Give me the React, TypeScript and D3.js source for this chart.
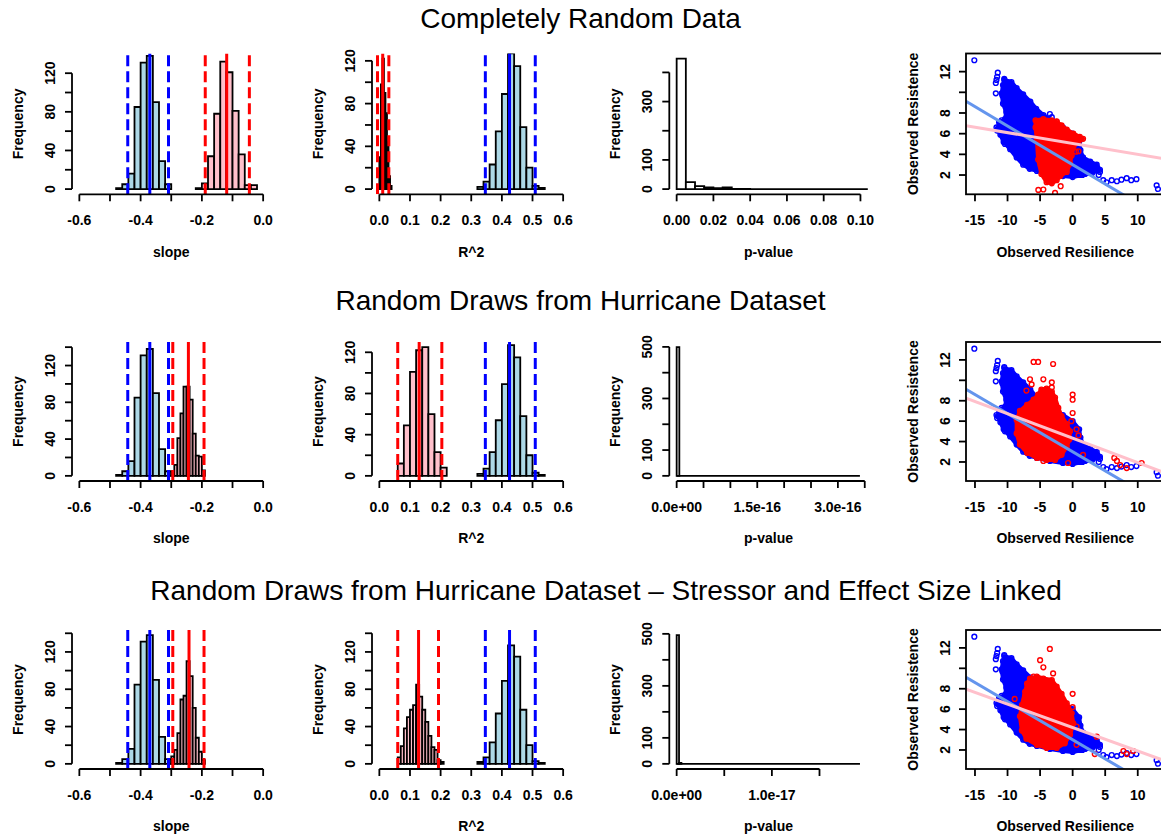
import * as d3 from 'd3';

const FONT = '"Liberation Sans", Arial, Helvetica, sans-serif';

const ROW_TITLES = [
  'Completely Random Data',
  'Random Draws from Hurricane Dataset',
  'Random Draws from Hurricane Dataset \u2013 Stressor and Effect Size Linked',
];

// ---- slope histograms ----
const SLOPE_BLUE_START = -0.48;
const SLOPE_BLUE_WIDTH = 0.02;
const SLOPE_BLUE_COUNTS = [1, 5, 16, 85, 131, 138, 90, 29, 5];
const SLOPE_RED_START = [-0.22, -0.3, -0.3];
const SLOPE_RED_WIDTH = [0.02, 0.01, 0.01];
const SLOPE_RED_COUNTS = [
  [1, 6, 34, 78, 132, 121, 81, 36, 4, 4],
  [4, 12, 41, 68, 97, 97, 83, 46, 22, 21, 6],
  [8, 15, 33, 69, 73, 110, 94, 60, 28, 13, 4],
];
// lower, mean, upper
const SLOPE_BLUE_LINES = [-0.442, -0.37, -0.309];
const SLOPE_RED_LINES = [
  [-0.189, -0.119, -0.045],
  [-0.295, -0.244, -0.193],
  [-0.295, -0.242, -0.193],
];
const SLOPE_YMAX = [135, 140, 138];
const SLOPE_XTICKS = [-0.6, -0.5, -0.4, -0.3, -0.2, -0.1, 0];
const SLOPE_XLABELS = ['-0.6', '', '-0.4', '', '-0.2', '', '0.0'];

// ---- R^2 histograms ----
const R2_BLUE_START = 0.32;
const R2_BLUE_WIDTH = 0.02;
const R2_BLUE_COUNTS = [2, 7, 23, 54, 89, 127, 115, 58, 20, 3, 1];
const R2_RED_START = [0, 0.06, 0.06];
const R2_RED_WIDTH = [0.005, 0.02, 0.01];
const R2_RED_COUNTS = [
  [30, 98, 122, 90, 71, 44, 12, 3],
  [12, 49, 101, 122, 125, 60, 23, 8],
  [7, 19, 38, 50, 58, 63, 85, 72, 58, 45, 30, 18, 15, 4, 2],
];
const R2_BLUE_LINES = [0.346, 0.425, 0.509];
const R2_RED_LINES = [
  [-0.006, 0.011, 0.031],
  [0.06, 0.13, 0.204],
  [0.06, 0.128, 0.193],
];
const R2_YMAX = [122, 125, 138];
const R2_XTICKS = [0, 0.1, 0.2, 0.3, 0.4, 0.5, 0.6];
const R2_XLABELS = ['0.0', '0.1', '0.2', '0.3', '0.4', '0.5', '0.6'];

// ---- p-value histograms (bins after the listed counts are empty) ----
const PVAL_WIDTH = [0.005, 5e-18, 2.5e-19];
const PVAL_COUNTS = [[447, 24, 10, 6, 3, 6, 1, 1], [499], [495, 4]];
const PVAL_END = [0.105, 3.41e-16, 1.925e-17];
const PVAL_XLIM = [
  [0, 0.1],
  [0, 3.42e-16],
  [0, 1.93e-17],
];
const PVAL_XTICKS = [
  [0, 0.02, 0.04, 0.06, 0.08, 0.1],
  [0, 5e-17, 1e-16, 1.5e-16, 2e-16, 2.5e-16, 3e-16, 3.5e-16],
  [0, 5e-18, 1e-17, 1.5e-17],
];
const PVAL_XLABELS = [
  ['0.00', '0.02', '0.04', '0.06', '0.08', '0.10'],
  ['0.0e+00', '', '', '1.5e-16', '', '', '3.0e-16', ''],
  ['0.0e+00', '', '1.0e-17', ''],
];
const PVAL_YTICKS = [
  [0, 100, 200, 300, 400],
  [0, 100, 200, 300, 400, 500],
  [0, 100, 200, 300, 400, 500],
];
const PVAL_YLABELS = [
  ['0', '100', '', '300', ''],
  ['0', '100', '', '300', '', '500'],
  ['0', '100', '', '300', '', '500'],
];

// ---- scatter: observed resilience vs resistence ----
const SCATTER_XLIM = [-15.25, 12.98];
const SCATTER_YLIM = [0.64, 13.25];
const SCATTER_XTICKS = [-15, -10, -5, 0, 5, 10];
const SCATTER_YTICKS = [2, 4, 6, 8, 10, 12];
const SCATTER_YLABELS = ['2', '4', '6', '8', '', '12'];

// outline of the dense blue cloud
const BLUE_CLOUD = [
  [-10.5, 11.2], [-9.4, 11.0], [-8.6, 10.4], [-7.6, 9.8], [-6.5, 9.1], [-5.6, 8.4],
  [-4.5, 7.8], [-3.0, 7.2], [-1.5, 6.6], [0.0, 6.0], [1.0, 5.2], [1.2, 4.4],
  [1.6, 3.7], [2.7, 3.3], [3.7, 3.0], [4.2, 2.5], [3.0, 2.2], [1.5, 2.0],
  [0.0, 1.8], [-1.5, 1.9], [-3.5, 2.1], [-5.5, 2.4], [-6.6, 2.6], [-7.6, 3.0],
  [-8.6, 3.7], [-9.6, 4.5], [-10.6, 5.2], [-11.1, 5.9], [-11.5, 6.5], [-11.3, 7.1],
  [-10.4, 7.4], [-10.2, 8.1], [-10.7, 8.9], [-10.9, 9.9], [-10.7, 10.7],
];
const BLUE_POINTS = [
  [-15.1, 13.1], [-11.5, 11.9], [-11.6, 11.5], [-11.7, 11.2], [-11.8, 10.9],
  [-10.5, 11.3], [-10.1, 10.9], [-11.8, 9.9], [-10.8, 9.7], [-10.9, 7.3],
  [-11.7, 6.6], [-11.6, 6.3], [-10.4, 5.0], [-6.3, 8.6], [-3.5, 7.9], [-3.2, 7.6],
  [1.6, 3.0], [2.7, 2.9], [3.2, 2.8], [4.2, 2.3], [4.0, 2.0], [4.7, 1.5],
  [5.2, 1.3], [6.0, 1.5], [6.8, 1.4], [7.5, 1.55], [8.3, 1.7], [9.0, 1.5],
  [9.8, 1.6], [12.9, 1.0], [13.1, 0.65], [1.9, 2.1], [1.1, 2.0],
];

const RED_CLOUDS = [
  [
    [-5.7, 7.3], [-4.5, 7.4], [-3.2, 7.3], [-2.45, 7.15], [-1.7, 6.8], [-0.9, 6.4],
    [0.1, 6.0], [1.1, 5.7], [1.6, 5.5], [0.9, 5.2], [0.1, 4.7], [-0.15, 3.9],
    [-0.4, 3.1], [-0.9, 2.3], [-1.9, 1.9], [-2.45, 1.5], [-3.2, 1.2], [-4.0, 1.3],
    [-4.8, 2.1], [-5.3, 3.5], [-5.5, 5.4], [-5.7, 6.6],
  ],
  [
    [-4.0, 9.2], [-3.2, 8.9], [-2.7, 8.3], [-2.2, 7.3], [-1.7, 6.5], [-0.9, 5.7],
    [-0.4, 5.0], [-0.5, 4.2], [-0.9, 3.5], [-1.7, 2.7], [-2.7, 2.2], [-4.0, 2.2],
    [-5.5, 2.4], [-7.0, 2.9], [-8.1, 3.7], [-8.6, 4.8], [-8.6, 6.1], [-8.1, 7.0],
    [-7.0, 7.6], [-6.0, 8.1], [-5.3, 8.6], [-4.8, 9.1],
  ],
  [
    [-6.55, 9.0], [-5.5, 9.2], [-4.5, 9.0], [-3.2, 8.85], [-2.45, 8.2], [-1.7, 7.5],
    [-0.9, 6.56], [-0.15, 5.6], [0.1, 4.6], [-0.4, 3.5], [-1.2, 2.65], [-2.45, 2.2],
    [-4.0, 2.2], [-5.5, 2.5], [-7.1, 3.1], [-7.8, 3.9], [-8.1, 5.3], [-7.8, 6.4],
    [-7.3, 7.7], [-7.0, 8.5],
  ],
];
const RED_POINTS = [
  [
    [-5.27, 0.56], [-4.5, 0.6], [-2.7, 0.27], [-1.84, 0.92], [-4.9, 2.95],
    [-1.43, 2.9], [-1.5, 2.5], [0.5, 4.26], [0.9, 4.3], [-0.4, 4.7], [-2.45, 7.2],
  ],
  [
    [-6.0, 11.8], [-5.3, 11.8], [-3.0, 11.6], [-6.55, 10.1], [-6.3, 9.6], [-4.5, 10.1],
    [-3.2, 9.8], [-3.2, 9.3], [-7.1, 9.0], [0.0, 8.6], [0.0, 8.1], [0.0, 6.8],
    [-0.2, 6.0], [0.6, 5.2], [0.9, 4.6], [6.4, 2.4], [6.8, 2.1], [7.3, 1.7],
    [8.3, 1.4], [10.6, 1.9], [-4.5, 2.1], [-0.7, 1.9], [1.6, 2.7],
  ],
  [
    [-3.5, 11.9], [-5.0, 10.8], [-4.5, 10.1], [-3.0, 9.5], [-6.0, 9.2], [-8.9, 7.0],
    [-7.3, 7.3], [0.0, 7.5], [0.0, 6.2], [-0.5, 5.6], [0.6, 4.3], [3.7, 3.3],
    [3.4, 1.6], [7.8, 1.9], [8.3, 1.6], [9.3, 1.9], [-6.2, 3.0], [0.6, 2.5],
  ],
];
// intercept, slope
const BLUE_FIT = [3.0, -0.374];
const RED_FIT = [
  [5.05, -0.105],
  [4.33, -0.24],
  [4.2, -0.23],
];

// ---- layout ----
const COL_LEFT = [72, 372, 669.3, 966];
const PLOT_W = 198.5;
const ROW_TOP = [53.5, 342, 630];
const ROW_BOTTOM = [194.3, 481, 769];
const TITLE_Y = [18, 300, 590];
const TITLE_X = [580.5, 580.5, 606];

const pad = (lim: number[]) => {
  const s = lim[1] - lim[0];
  return [lim[0] - 0.04 * s, lim[1] + 0.04 * s];
};

type Series = { start: number; width: number; counts: number[]; fill: string; end?: number };
type VLine = { x: number; color: string; dashed: boolean };

function Hist(props: {
  id: string;
  left: number;
  top: number;
  bottom: number;
  xlim: number[];
  xticks: number[];
  xlabels: string[];
  xtitle: string;
  ymax: number;
  yticks: number[];
  ylabels: string[];
  series: Series[];
  lines: VLine[];
}) {
  const { id, left, top, bottom, xlim, xticks, xlabels, xtitle, ymax, yticks, ylabels, series, lines } = props;
  const right = left + PLOT_W;
  const x = d3.scaleLinear().domain(pad(xlim)).range([left, right]);
  const y = d3.scaleLinear().domain([-0.04 * ymax, 1.04 * ymax]).range([bottom, top]);

  return (
    <g>
      <clipPath id={id}>
        <rect x={left} y={top} width={PLOT_W} height={bottom - top} />
      </clipPath>
      <g clipPath={`url(#${id})`}>
        {series.map((s, si) => (
          <g key={si}>
            {s.end !== undefined && (
              <line x1={x(s.start)} x2={x(s.end)} y1={y(0)} y2={y(0)} stroke="#000" strokeWidth={1.8} />
            )}
            {s.counts.map((c, i) => {
              const x0 = x(s.start + i * s.width);
              const x1 = x(s.start + (i + 1) * s.width);
              const y0 = y(0);
              const y1 = y(c);
              return (
                <path
                  key={i}
                  d={`M${x0},${y0}V${y1}H${x1}V${y0}Z`}
                  fill={s.fill}
                  stroke="#000"
                  strokeWidth={1.8}
                />
              );
            })}
          </g>
        ))}
        {lines.map((l, i) => (
          <line
            key={i}
            x1={x(l.x)}
            x2={x(l.x)}
            y1={bottom}
            y2={top}
            stroke={l.color}
            strokeWidth={3}
            strokeDasharray={l.dashed ? '11 5' : undefined}
          />
        ))}
      </g>
      {/* x axis */}
      <line x1={x(xticks[0])} x2={x(xticks[xticks.length - 1])} y1={bottom} y2={bottom} stroke="#000" strokeWidth={1.8} />
      {xticks.map((t, i) => (
        <g key={i}>
          <line x1={x(t)} x2={x(t)} y1={bottom} y2={bottom + 7} stroke="#000" strokeWidth={1.8} />
          {xlabels[i] && (
            <text x={x(t)} y={bottom + 26} dy="0.35em" textAnchor="middle" fontSize={14} fontWeight="bold" fontFamily={FONT}>
              {xlabels[i]}
            </text>
          )}
        </g>
      ))}
      <text x={(left + right) / 2} y={bottom + 57.5} dy="0.35em" textAnchor="middle" fontSize={14} fontWeight="bold" fontFamily={FONT}>
        {xtitle}
      </text>
      {/* y axis */}
      <line x1={left} x2={left} y1={y(yticks[0])} y2={y(yticks[yticks.length - 1])} stroke="#000" strokeWidth={1.8} />
      {yticks.map((t, i) => (
        <g key={i}>
          <line x1={left - 7} x2={left} y1={y(t)} y2={y(t)} stroke="#000" strokeWidth={1.8} />
          {ylabels[i] && (
            <text
              transform={`translate(${left - 22},${y(t)}) rotate(-90)`}
              dy="0.35em"
              textAnchor="middle"
              fontSize={14}
              fontWeight="bold"
              fontFamily={FONT}
            >
              {ylabels[i]}
            </text>
          )}
        </g>
      ))}
      <text
        transform={`translate(${left - 54},${(top + bottom) / 2}) rotate(-90)`}
        dy="0.35em"
        textAnchor="middle"
        fontSize={14}
        fontWeight="bold"
        fontFamily={FONT}
      >
        Frequency
      </text>
    </g>
  );
}

function Scatter({ id, left, top, bottom, row }: { id: string; left: number; top: number; bottom: number; row: number }) {
  const right = left + PLOT_W;
  const xd = pad(SCATTER_XLIM);
  const x = d3.scaleLinear().domain(xd).range([left, right]);
  const y = d3.scaleLinear().domain(pad(SCATTER_YLIM)).range([bottom, top]);
  const cloud = d3
    .line<number[]>()
    .x(d => x(d[0]))
    .y(d => y(d[1]))
    .curve(d3.curveLinearClosed);
  const fitPath = (f: number[]) => `M${x(xd[0])},${y(f[0] + f[1] * xd[0])}L${x(xd[1])},${y(f[0] + f[1] * xd[1])}`;
  const rings = (pts: number[][], color: string) =>
    pts.map((p, i) => <circle key={i} cx={x(p[0])} cy={y(p[1])} r={2.4} fill="none" stroke={color} strokeWidth={1.4} />);

  return (
    <g>
      <clipPath id={id}>
        <rect x={left} y={top} width={PLOT_W} height={bottom - top} />
      </clipPath>
      <g clipPath={`url(#${id})`}>
        <path d={cloud(BLUE_CLOUD) || ''} fill="#0000FF" stroke="#0000FF" strokeWidth={4} strokeLinejoin="round" />
        {rings(BLUE_CLOUD, '#0000FF')}
        {rings(BLUE_POINTS, '#0000FF')}
        <path d={cloud(RED_CLOUDS[row]) || ''} fill="#FF0000" stroke="#FF0000" strokeWidth={4} strokeLinejoin="round" />
        {rings(RED_CLOUDS[row], '#FF0000')}
        {rings(RED_POINTS[row], '#FF0000')}
        <path d={fitPath(BLUE_FIT)} stroke="#6495ED" strokeWidth={3} fill="none" />
        <path d={fitPath(RED_FIT[row])} stroke="#FFC0CB" strokeWidth={3} fill="none" />
      </g>
      <rect x={left} y={top} width={PLOT_W} height={bottom - top} fill="none" stroke="#000" strokeWidth={1.8} />
      {SCATTER_XTICKS.map((t, i) => (
        <g key={i}>
          <line x1={x(t)} x2={x(t)} y1={bottom} y2={bottom + 7} stroke="#000" strokeWidth={1.8} />
          <text x={x(t)} y={bottom + 26} dy="0.35em" textAnchor="middle" fontSize={14} fontWeight="bold" fontFamily={FONT}>
            {t}
          </text>
        </g>
      ))}
      <text x={(left + right) / 2} y={bottom + 57.5} dy="0.35em" textAnchor="middle" fontSize={14} fontWeight="bold" fontFamily={FONT}>
        Observed Resilience
      </text>
      {SCATTER_YTICKS.map((t, i) => (
        <g key={i}>
          <line x1={left - 7} x2={left} y1={y(t)} y2={y(t)} stroke="#000" strokeWidth={1.8} />
          {SCATTER_YLABELS[i] && (
            <text
              transform={`translate(${left - 21},${y(t)}) rotate(-90)`}
              dy="0.35em"
              textAnchor="middle"
              fontSize={14}
              fontWeight="bold"
              fontFamily={FONT}
            >
              {SCATTER_YLABELS[i]}
            </text>
          )}
        </g>
      ))}
      <text
        transform={`translate(${left - 53},${(top + bottom) / 2}) rotate(-90)`}
        dy="0.35em"
        textAnchor="middle"
        fontSize={14}
        fontWeight="bold"
        fontFamily={FONT}
      >
        Observed Resistence
      </text>
    </g>
  );
}

export default function App() {
  const dashed = (v: number[], color: string): VLine[] => [
    { x: v[0], color, dashed: true },
    { x: v[2], color, dashed: true },
    { x: v[1], color, dashed: false },
  ];

  return (
    <svg
      width={1161}
      height={837}
      style={{ position: 'absolute', left: 0, top: 0, background: '#fff' }}
      fontFamily={FONT}
    >
      {ROW_TITLES.map((title, r) => {
        const top = ROW_TOP[r];
        const bottom = ROW_BOTTOM[r];
        return (
          <g key={r}>
            <text x={TITLE_X[r]} y={TITLE_Y[r]} dy="0.35em" textAnchor="middle" fontSize={28} fontFamily={FONT}>
              {title}
            </text>
            <Hist
              id={`slope${r}`}
              left={COL_LEFT[0]}
              top={top}
              bottom={bottom}
              xlim={[-0.6, 0]}
              xticks={SLOPE_XTICKS}
              xlabels={SLOPE_XLABELS}
              xtitle="slope"
              ymax={SLOPE_YMAX[r]}
              yticks={r === 0 ? [0, 20, 40, 60, 80, 100, 120] : [0, 20, 40, 60, 80, 100, 120, 140]}
              ylabels={['0', '', '40', '', '80', '', '120', '']}
              series={[
                { start: SLOPE_BLUE_START, width: SLOPE_BLUE_WIDTH, counts: SLOPE_BLUE_COUNTS, fill: '#ADD8E6' },
                { start: SLOPE_RED_START[r], width: SLOPE_RED_WIDTH[r], counts: SLOPE_RED_COUNTS[r], fill: '#FFC0CB' },
              ]}
              lines={[...dashed(SLOPE_BLUE_LINES, '#0000FF'), ...dashed(SLOPE_RED_LINES[r], '#FF0000')]}
            />
            <Hist
              id={`r2${r}`}
              left={COL_LEFT[1]}
              top={top}
              bottom={bottom}
              xlim={[0, 0.6]}
              xticks={R2_XTICKS}
              xlabels={R2_XLABELS}
              xtitle="R^2"
              ymax={R2_YMAX[r]}
              yticks={r === 2 ? [0, 20, 40, 60, 80, 100, 120, 140] : [0, 20, 40, 60, 80, 100, 120]}
              ylabels={['0', '', '40', '', '80', '', '120', '']}
              series={[
                { start: R2_RED_START[r], width: R2_RED_WIDTH[r], counts: R2_RED_COUNTS[r], fill: '#FFC0CB' },
                { start: R2_BLUE_START, width: R2_BLUE_WIDTH, counts: R2_BLUE_COUNTS, fill: '#ADD8E6' },
              ]}
              lines={[...dashed(R2_BLUE_LINES, '#0000FF'), ...dashed(R2_RED_LINES[r], '#FF0000')]}
            />
            <Hist
              id={`pval${r}`}
              left={COL_LEFT[2]}
              top={top}
              bottom={bottom}
              xlim={PVAL_XLIM[r]}
              xticks={PVAL_XTICKS[r]}
              xlabels={PVAL_XLABELS[r]}
              xtitle="p-value"
              ymax={d3.max(PVAL_COUNTS[r]) || 1}
              yticks={PVAL_YTICKS[r]}
              ylabels={PVAL_YLABELS[r]}
              series={[{ start: 0, width: PVAL_WIDTH[r], counts: PVAL_COUNTS[r], fill: '#FFFFFF', end: PVAL_END[r] }]}
              lines={[]}
            />
            <Scatter id={`sc${r}`} left={COL_LEFT[3]} top={top} bottom={bottom} row={r} />
          </g>
        );
      })}
    </svg>
  );
}
